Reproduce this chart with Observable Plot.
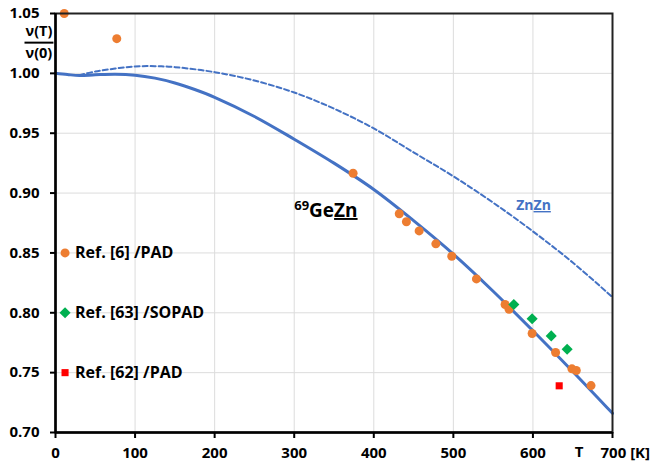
<!DOCTYPE html>
<html><head><meta charset="utf-8">
<script src="https://cdn.jsdelivr.net/npm/d3@7"></script>
<script src="https://cdn.jsdelivr.net/npm/@observablehq/plot@0.6"></script>
<style>
body{margin:0;background:#fff}
#chart{width:651px;height:466px}
</style>
</head><body><div id="chart"></div>
<script>
// Solid curve: 69GeZn
const geznT = [0, 15, 30, 50, 75, 100, 125, 150, 175, 200, 250, 300, 350, 400, 450, 500, 550, 600, 650, 700];
const geznV = [1.000, 0.999, 0.9982, 0.9988, 0.9993, 0.9985, 0.996, 0.992, 0.9865, 0.980, 0.964, 0.945, 0.925, 0.903, 0.877, 0.849, 0.818, 0.785, 0.751, 0.716];
// Dashed curve: ZnZn
const znznT = [30, 50, 75, 100, 125, 150, 200, 250, 300, 350, 400, 450, 500, 550, 600, 650, 700];
const znznV = [0.9985, 1.0015, 1.004, 1.0058, 1.006, 1.0052, 1.001, 0.994, 0.984, 0.9705, 0.954, 0.934, 0.914, 0.892, 0.868, 0.842, 0.813];
// Ref. [6] /PAD
const pad6T = [11, 77, 374, 432, 441, 457, 478, 498, 529, 565, 570, 599, 628.5, 649, 654.5, 673];
const pad6V = [1.05, 1.029, 0.9166, 0.8827, 0.876, 0.8684, 0.8576, 0.8472, 0.8283, 0.8069, 0.803, 0.7827, 0.7668, 0.7532, 0.7518, 0.7392];
// Ref. [63] /SOPAD
const sopad63T = [576, 599, 623, 643];
const sopad63V = [0.8069, 0.795, 0.7807, 0.7696];
// Ref. [62] /PAD
const pad62T = [633];
const pad62V = [0.739];
// Legend entries (drawn inside the plot)
const legendLabels = ["Ref. [6] /PAD", "Ref. [63] /SOPAD", "Ref. [62] /PAD"];
const legendT = 12;
const legendV = [0.85, 0.80, 0.75];
// Ticks
const xTicks = [0, 100, 200, 300, 400, 500, 600, 700];
const xTickLabels = ["0", "100", "200", "300", "400", "500", "600", "700 [K]"];
const yTicks = [0.70, 0.75, 0.80, 0.85, 0.90, 0.95, 1.00, 1.05];
const yTickLabels = ["0.70", "0.75", "0.80", "0.85", "0.90", "0.95", "1.00", "1.05"];
// Text labels
const yLabelTop = "ν(T)";
const yLabelBottom = "ν(0)";
const xAxisLetter = "T";
const xAxisLetterT = 658;
const geLabelParts = ["69", "Ge", "Zn"];
const geLabelT = 300, geLabelV = 0.887;
const znLabelParts = ["Zn", "Zn"];
const znLabelT = 579, znLabelV = 0.8896;

const blue = "#4472C4", orange = "#ED7D31", green = "#00B050", red = "#FF0000";
const font = "'Open Sans', 'Noto Sans', sans-serif";

const gezn = geznT.map((t, i) => ({T: t, V: geznV[i]}));
const znzn = znznT.map((t, i) => ({T: t, V: znznV[i]}));
const pad6 = pad6T.map((t, i) => ({T: t, V: pad6V[i]}));
const sopad = sopad63T.map((t, i) => ({T: t, V: sopad63V[i]}));
const pad62 = pad62T.map((t, i) => ({T: t, V: pad62V[i]}));
const xLab = xTicks.map((t, i) => ({T: t, s: xTickLabels[i]}));
const legend = legendLabels.map((s, i) => ({T: legendT, V: legendV[i], s}));

const chart = Plot.plot({
  width: 651, height: 466,
  marginLeft: 55, marginRight: 39, marginTop: 13, marginBottom: 34,
  style: {fontFamily: font, background: "white", color: "black"},
  x: {domain: [0, 700]},
  y: {domain: [0.70, 1.05]},
  marks: [
    Plot.gridX(xTicks.slice(1, -1), {stroke: "#dcdcdc", strokeOpacity: 1, strokeWidth: 1}),
    Plot.gridY(yTicks.slice(1, -1), {stroke: "#dcdcdc", strokeOpacity: 1, strokeWidth: 1}),
    Plot.line(znzn, {x: "T", y: "V", stroke: blue, strokeWidth: 2, strokeDasharray: "5,3", curve: "catmull-rom"}),
    Plot.line(gezn, {x: "T", y: "V", stroke: blue, strokeWidth: 3, curve: "catmull-rom"}),
    Plot.dot(pad6, {x: "T", y: "V", r: 4.5, fill: orange}),
    Plot.dot(sopad, {x: "T", y: "V", r: 5, symbol: "diamond2", fill: green}),
    Plot.dot(pad62, {x: "T", y: "V", r: 4, symbol: "square", fill: red}),
    Plot.dot([legend[0]], {x: "T", y: "V", r: 4.5, fill: orange}),
    Plot.dot([legend[1]], {x: "T", y: "V", r: 5, symbol: "diamond2", fill: green}),
    Plot.dot([legend[2]], {x: "T", y: "V", r: 4, symbol: "square", fill: red}),
    Plot.text(legend, {x: "T", y: "V", text: "s", dx: 10, textAnchor: "start", fontSize: 16, fontWeight: "bold", fill: "black"}),
    Plot.frame({stroke: "#222", strokeWidth: 2}),
    Plot.ruleX([0], {stroke: "black", strokeWidth: 2.5}),
    Plot.ruleY([0.70], {stroke: "black", strokeWidth: 2.5}),
    Plot.axisX({ticks: xTicks, tickSize: 6, strokeWidth: 2, stroke: "black", tickFormat: () => "", label: null}),
    Plot.axisY({ticks: yTicks, tickSize: 5, strokeWidth: 2, stroke: "black", tickPadding: 11, fontSize: 15, fontWeight: "bold", fill: "black",
      tickFormat: d => yTickLabels[yTicks.findIndex(v => Math.abs(v - d) < 1e-9)], label: null}),
    Plot.text(xLab.slice(0, -1), {x: "T", y: () => 0.70, text: "s", dy: 21, fontSize: 15, fontWeight: "bold", fill: "black"}),
    Plot.text(xLab.slice(-1), {x: "T", y: () => 0.70, text: "s", dy: 21, dx: -12, textAnchor: "start", fontSize: 15, fontWeight: "bold", fill: "black"}),
    Plot.text([xAxisLetter], {x: () => xAxisLetterT, y: () => 0.70, text: d => d, dy: 20, fontSize: 15, fontWeight: "bold", fill: "black"}),
    Plot.text([yLabelTop], {frameAnchor: "top-left", lineAnchor: "middle", text: d => d, dx: -30, dy: 18, fontSize: 14.5, fontWeight: "bold", fill: "black"}),
    Plot.text([yLabelBottom], {frameAnchor: "top-left", lineAnchor: "middle", text: d => d, dx: -30, dy: 40, fontSize: 14.5, fontWeight: "bold", fill: "black"}),
    Plot.text([geLabelParts.join("")], {x: () => geLabelT, y: () => geLabelV, text: d => d, textAnchor: "start", fontSize: 19, fontWeight: "bold", fill: "black"}),
    Plot.text([znLabelParts.join("")], {x: () => znLabelT, y: () => znLabelV, text: d => d, textAnchor: "start", fontSize: 14, fontWeight: "bold", fill: blue})
  ]
});

document.getElementById("chart").appendChild(chart);

// Rich text post-processing (superscript, underline, fraction bar)
d3.select(chart).selectAll("text").each(function() {
  const el = d3.select(this);
  const t = this.textContent;
  if (t === geLabelParts.join("")) {
    el.text(null);
    el.append("tspan").attr("font-size", 13).attr("dy", "-0.38em").text(geLabelParts[0]);
    el.append("tspan").attr("dy", "0.38em").text(geLabelParts[1]);
    el.append("tspan").style("text-decoration", "underline").text(geLabelParts[2]);
  } else if (t === znLabelParts.join("")) {
    el.text(null);
    el.append("tspan").text(znLabelParts[0]);
    el.append("tspan").style("text-decoration", "underline").text(znLabelParts[1]);
  } else if (t === yLabelTop) {
    const b = this.getBBox();
    const yb = b.y + b.height / 2 + 12;
    d3.select(this.parentNode).append("line")
      .attr("transform", this.getAttribute("transform"))
      .attr("x1", b.x - 1).attr("x2", b.x + b.width + 1)
      .attr("y1", yb).attr("y2", yb)
      .attr("stroke", "black").attr("stroke-width", 2);
  }
});
</script>
</body></html>
